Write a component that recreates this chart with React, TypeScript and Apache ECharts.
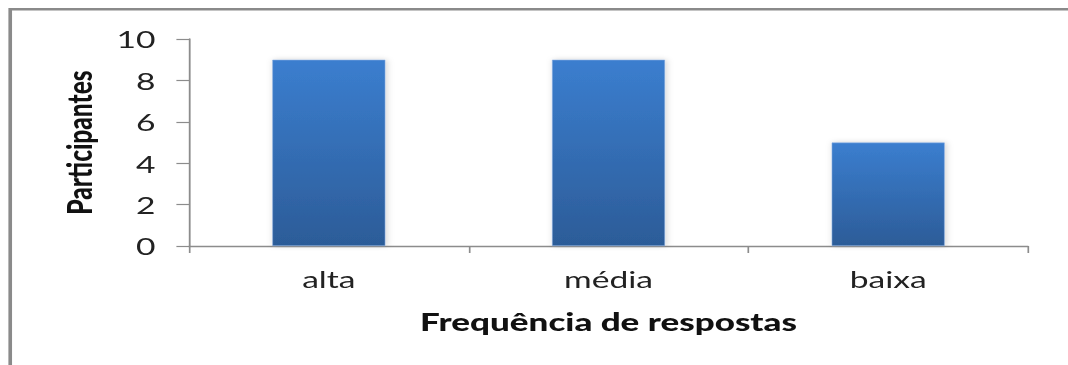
import React, { useEffect, useRef } from "react";
import * as echarts from "echarts";

const categories = ["alta", "média", "baixa"];
const participantes = [9, 9, 5];
const yTicks = [0, 2, 4, 6, 8, 10];
const xTitle = "Frequência de respostas";
const yTitle = "Participantes";

const SX = 1.4;
const W = 1068 / SX;
const H = 365;

export default function App() {
  const ref = useRef<HTMLDivElement>(null);
  useEffect(() => {
    document.body.style.margin = "0";
    const chart = echarts.init(ref.current!, null, { renderer: "svg", width: W, height: H });
    chart.setOption({
      animation: false,
      backgroundColor: "#ffffff",
      graphic: [
        {
          type: "rect",
          shape: { x: 7.3, y: 9.2, width: W + 20, height: H + 20 },
          style: { fill: "none", stroke: "#8a8a8a", lineWidth: 2.6 },
          silent: true,
        },
      ],
      grid: { left: 135, right: W - 734.3, top: 39, bottom: 119, containLabel: false },
      xAxis: {
        type: "category",
        data: categories,
        boundaryGap: true,
        axisLine: { show: true, lineStyle: { color: "#8c8c8c", width: 1.3 } },
        axisTick: { show: true, alignWithLabel: false, length: 7, lineStyle: { color: "#8c8c8c", width: 1.2 } },
        axisLabel: { color: "#222", fontFamily: "Lato", fontSize: 24, margin: 21 },
        name: xTitle,
        nameLocation: "middle",
        nameGap: 63,
        nameTextStyle: { color: "#111", fontFamily: "Lato", fontWeight: 900, fontSize: 25 },
      },
      yAxis: {
        type: "value",
        min: yTicks[0],
        max: yTicks[yTicks.length - 1],
        interval: 2,
        splitLine: { show: false },
        axisLine: { show: true, lineStyle: { color: "#8c8c8c", width: 1.3 } },
        axisTick: { show: true, inside: false, length: 9, lineStyle: { color: "#8c8c8c", width: 1.2 } },
        axisLabel: { color: "#222", fontFamily: "Lato", fontSize: 24, margin: 24 },
        name: yTitle,
        nameLocation: "middle",
        nameGap: 66,
        nameRotate: 90,
        nameTextStyle: { color: "#111", fontFamily: "Lato", fontWeight: 900, fontSize: 24.5 },
      },
      series: [
        {
          type: "bar",
          data: participantes,
          barWidth: "40.5%",
          itemStyle: {
            color: new echarts.graphic.LinearGradient(0, 0, 0, 1, [
              { offset: 0, color: "#3b7ecf" },
              { offset: 1, color: "#2c5c98" },
            ]),
            borderColor: "rgba(140,175,225,0.8)",
            borderWidth: 0.6,
            shadowBlur: 5,
            shadowColor: "rgba(0,0,0,0.18)",
            shadowOffsetX: 1,
            shadowOffsetY: 0,
          },
        },
      ],
    });
    return () => chart.dispose();
  }, []);
  return (
    <div style={{ position: "fixed", left: 0, top: 0, width: 1068, height: H, overflow: "hidden", background: "#fff" }}>
      <div
        ref={ref}
        style={{ width: W, height: H, transform: `scaleX(${SX})`, transformOrigin: "0 0" }}
      />
    </div>
  );
}
